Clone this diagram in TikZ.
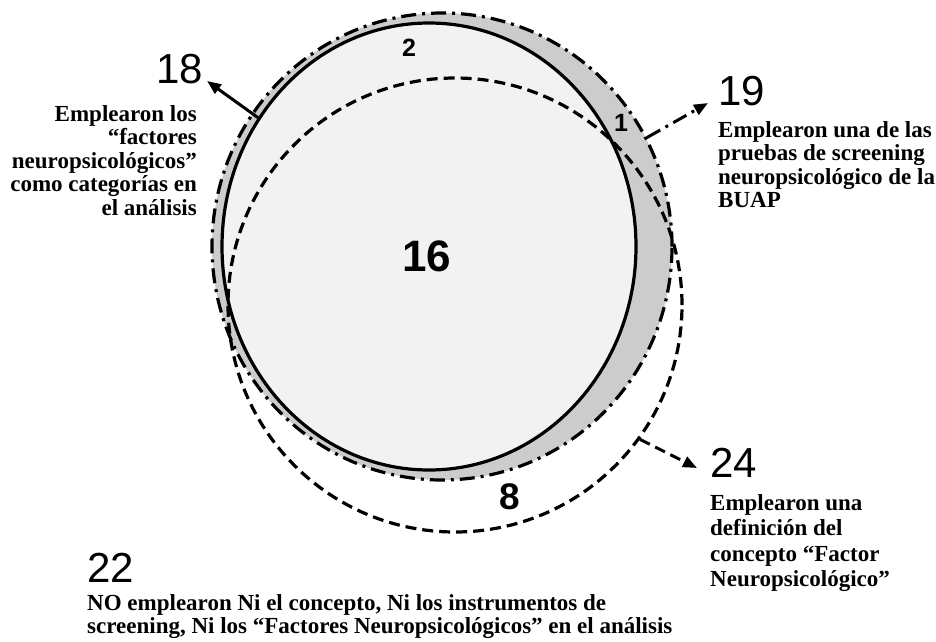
\documentclass[tikz,border=0pt]{standalone}
\usepackage{fontspec}
\setmainfont{Liberation Serif}
\newfontfamily\arialf{Liberation Sans}
\usetikzlibrary{shapes.geometric,arrows.meta}
\definecolor{ringgray}{HTML}{CCCCCC}
\definecolor{coregray}{HTML}{F2F2F2}
\tikzset{
  setbox/.style={ellipse, inner sep=0pt, line width=3.2pt},
  dashdot/.style={dash pattern=on 15pt off 6pt on 3pt off 6pt},
  dashline/.style={dash pattern=on 11pt off 6pt},
  bignum/.style={font=\arialf\fontsize{42}{42}\selectfont, inner sep=0pt},
  innum/.style={font=\arialf\bfseries\fontsize{25}{25}\selectfont, inner sep=0pt},
  desc/.style={font=\bfseries\fontsize{23}{23.5}\selectfont, inner sep=0pt},
  pointer/.style={line width=3pt, -{Triangle[length=14pt,width=11pt]}},
}
\begin{document}
\begin{tikzpicture}[x=1pt,y=-1pt]
\useasboundingbox (0,0) rectangle (936,641);
% sets
\node[setbox, fill=ringgray, minimum width=460pt, minimum height=467pt] (R) at (442,246.5) {};
\node[setbox, fill=coregray, draw, minimum width=414pt, minimum height=447pt] (S) at (429,246.5) {};
\node[setbox, draw, dashline, minimum width=454pt, minimum height=454pt] (D) at (455,305) {};
\node[setbox, draw, dashdot, minimum width=460pt, minimum height=467pt] (R2) at (442,246.5) {};
% inner counts
\node[innum] (c2) at (409,48) {2};
\node[innum] (c1) at (621,123) {1};
\node[innum, font=\arialf\bfseries\fontsize{44}{44}\selectfont] (c16) at (426.5,256.5) {16};
\node[innum, font=\arialf\bfseries\fontsize{37}{37}\selectfont] (c8) at (510,497) {8};
% outer labels
\node[bignum, anchor=base east] (n18) at (203,83) {18};
\node[desc, align=right, anchor=north east] (t18) at (197,105) {Emplearon los\\“factores\\neuropsicológicos”\\como categorías en\\el análisis};
\node[bignum, anchor=base west] (n19) at (718,105) {19};
\node[desc, align=left, anchor=north west] (t19) at (718,121) {Emplearon una de las\\pruebas de screening\\neuropsicológico de la\\BUAP};
\node[bignum, anchor=base west] (n24) at (710,477) {24};
\node[desc, align=left, anchor=north west, font=\bfseries\fontsize{23}{25.5}\selectfont] (t24) at (710,494) {Emplearon una\\definición del\\concepto “Factor\\Neuropsicológico”};
\node[bignum, anchor=base west] (n22) at (87,582) {22};
\node[desc, align=left, anchor=north west] (t22) at (87,594) {NO emplearon Ni el concepto, Ni los instrumentos de\\screening, Ni los “Factores Neuropsicológicos” en el análisis};
% pointers
\coordinate (p18) at (207,81);
\coordinate (p19) at (708,103);
\coordinate (p24) at (697,468);
\draw[pointer] (S.143) -- (p18);
\draw[pointer, dashdot] (R2.28.5) -- (p19);
\draw[pointer, dashline] (D.-36) -- (p24);
\end{tikzpicture}
\end{document}
